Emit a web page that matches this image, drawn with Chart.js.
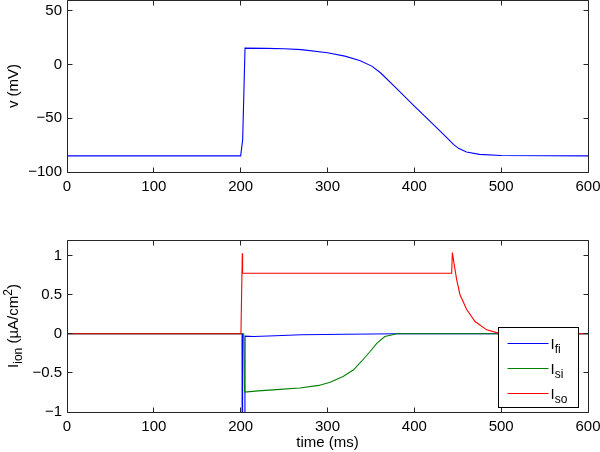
<!DOCTYPE html>
<html>
<head>
<meta charset="utf-8">
<script src="https://cdn.jsdelivr.net/npm/chart.js@4/dist/chart.umd.min.js"></script>
<style>
  body { margin: 0; background: #fff; width: 600px; height: 452px; position: relative; overflow: hidden; }
  .box { position: absolute; left: 0; width: 600px; }
</style>
</head>
<body>
<div class="box" style="top:0;height:200px"><canvas id="vChart" width="600" height="200"></canvas></div>
<div class="box" style="top:226px;height:226px"><canvas id="iChart" width="600" height="226"></canvas></div>

<script>
// tick labels
const timeTicks = [0, 100, 200, 300, 400, 500, 600];
const vTicks = [-100, -50, 0, 50];
const iTicks = [-1, -0.5, 0, 0.5, 1];

// membrane potential v (mV)
const tV = [0, 200, 202.3, 205, 230, 250, 270, 300, 320, 337, 351, 361, 380, 400, 420, 440, 445, 451, 460, 475, 500, 600];
const vV = [-85, -85, -70, 15.2, 15, 14.6, 13.8, 10.9, 7.8, 3.7, -1.5, -7.7, -22.7, -38.7, -54.4, -70.2, -74.3, -78, -81.4, -83.6, -84.6, -85];

// ionic currents (uA/cm^2)
const tFi = [0, 201.6, 202.2, 204.5, 205, 215, 240, 270, 320, 380, 600];
const iFi = [0, 0, -6, -6, -0.03, -0.035, -0.025, -0.012, -0.005, 0, 0];

const tSi = [0, 203.5, 204.5, 220, 245, 268, 290, 303, 318, 330, 339, 349, 357, 366, 380, 600];
const iSi = [0, 0, -0.745, -0.73, -0.71, -0.694, -0.66, -0.62, -0.545, -0.46, -0.354, -0.226, -0.119, -0.034, 0, 0];

const tSo = [0, 200.3, 201.9, 202.2, 443, 443.8, 445.7, 448.8, 452.6, 460.3, 469.9, 483.4, 496.7, 510, 600];
const iSo = [0, 0, 1.03, 0.775, 0.775, 1.04, 0.9, 0.69, 0.5, 0.31, 0.157, 0.051, 0.009, 0, 0];

const FONT = "'Liberation Sans', Arial, Helvetica, sans-serif";
const tickFont = { family: FONT, size: 15 };
const fmt = v => String(v).replace('-', '\u2212');
const pts = (xs, ys) => xs.map((x, i) => ({ x: x, y: ys[i] }));

// box with inward ticks on all four sides (matlab style)
const framePlugin = {
  id: 'frame',
  afterDatasetsDraw(chart) {
    const { ctx, chartArea: a, scales: { x, y } } = chart;
    const L = Math.floor(a.left) + 0.5, R = Math.floor(a.right) + 0.5;
    const T = Math.floor(a.top) + 0.5, B = Math.floor(a.bottom) + 0.5;
    ctx.save();
    ctx.strokeStyle = '#262626';
    ctx.lineWidth = 1;
    ctx.beginPath();
    ctx.rect(L, T, R - L, B - T);
    x.ticks.forEach(t => {
      const px = Math.floor(x.getPixelForValue(t.value)) + 0.5;
      ctx.moveTo(px, B); ctx.lineTo(px, B - 5);
      ctx.moveTo(px, T); ctx.lineTo(px, T + 5);
    });
    y.ticks.forEach(t => {
      const py = Math.floor(y.getPixelForValue(t.value)) + 0.5;
      ctx.moveTo(L, py); ctx.lineTo(L + 5, py);
      ctx.moveTo(R, py); ctx.lineTo(R - 5, py);
    });
    ctx.stroke();
    ctx.restore();
  }
};

// text with a subscript / superscript part, drawn left to right from x
function drawParts(ctx, parts, x, y) {
  parts.forEach(p => {
    ctx.font = p.size + 'px ' + FONT;
    ctx.fillText(p.text, x, y + (p.dy || 0));
    x += ctx.measureText(p.text).width;
  });
  return x;
}
function partsWidth(ctx, parts) {
  let w = 0;
  parts.forEach(p => { ctx.font = p.size + 'px ' + FONT; w += ctx.measureText(p.text).width; });
  return w;
}

// legend + y title of the current plot
const currentPlugin = {
  id: 'currentDecor',
  afterDraw(chart) {
    const { ctx, chartArea: a } = chart;
    ctx.save();
    ctx.fillStyle = '#000';
    ctx.textBaseline = 'alphabetic';

    // y axis title
    const title = [
      { text: 'I', size: 15 },
      { text: 'ion', size: 12, dy: 4 },
      { text: ' (\u00b5A/cm', size: 15 },
      { text: '2', size: 12, dy: -6 },
      { text: ')', size: 15 }
    ];
    ctx.translate(17.5, (a.top + a.bottom) / 2);
    ctx.rotate(-Math.PI / 2);
    drawParts(ctx, title, -partsWidth(ctx, title) / 2, 0);
    ctx.setTransform(1, 0, 0, 1, 0, 0);

    // legend box
    const w = 80, h = 80;
    const x0 = Math.floor(a.right) - 10 - w + 0.5, y0 = Math.floor(a.bottom) - 5 - h + 0.5;
    ctx.fillStyle = '#fff';
    ctx.fillRect(x0, y0, w, h);
    ctx.strokeStyle = '#000';
    ctx.lineWidth = 1;
    ctx.strokeRect(x0, y0, w, h);
    chart.data.datasets.forEach((ds, i) => {
      const cy = Math.round(y0 + 15 + i * 25) + 0.5;
      ctx.strokeStyle = ds.borderColor;
      ctx.lineWidth = 1.1;
      ctx.beginPath();
      ctx.moveTo(x0 + 9, cy); ctx.lineTo(x0 + 50, cy);
      ctx.stroke();
      const [main, sub] = ds.label.split('_');
      ctx.fillStyle = '#000';
      drawParts(ctx, [{ text: main, size: 15 }, { text: sub, size: 12, dy: 4 }], x0 + 52, cy + 5);
    });
    ctx.restore();
  }
};

function xAxis(title, height) {
  return {
    type: 'linear', min: 0, max: 600,
    afterBuildTicks: s => { s.ticks = timeTicks.map(v => ({ value: v })); },
    afterFit: s => { s.height = height; s.paddingLeft = 0; s.paddingRight = 0; },
    grid: { display: false, drawTicks: false },
    border: { display: false },
    ticks: { padding: 6, color: '#000', font: tickFont, maxRotation: 0, autoSkip: false, callback: fmt },
    title: title
      ? { display: true, text: title, color: '#000', font: tickFont, padding: { top: 0, bottom: 0 } }
      : { display: false }
  };
}

function yAxis(min, max, tickVals, title) {
  return {
    type: 'linear', min: min, max: max,
    afterBuildTicks: s => { s.ticks = tickVals.map(v => ({ value: v })); },
    afterFit: s => { s.width = 67; s.paddingTop = 0; s.paddingBottom = 0; },
    grid: { display: false, drawTicks: false },
    border: { display: false },
    ticks: { padding: 5, color: '#000', font: tickFont, autoSkip: false, callback: fmt },
    title: title
      ? { display: true, text: title, color: '#000', font: tickFont, padding: { top: 5, bottom: 0 } }
      : { display: false }
  };
}

const lineDefaults = { borderWidth: 1.1, pointRadius: 0, tension: 0, fill: false };

new Chart('vChart', {
  type: 'line',
  data: {
    datasets: [Object.assign({ label: 'v', data: pts(tV, vV), borderColor: '#0000ff' }, lineDefaults)]
  },
  options: {
    responsive: false,
    animation: false,
    layout: { padding: { top: 0, right: 12, left: 0, bottom: 0 } },
    plugins: { legend: { display: false }, tooltip: { enabled: false } },
    scales: { x: xAxis(null, 28), y: yAxis(-100, 60, vTicks, 'v (mV)') }
  },
  plugins: [framePlugin]
});

new Chart('iChart', {
  type: 'line',
  data: {
    datasets: [
      Object.assign({ label: 'I_fi', data: pts(tFi, iFi), borderColor: '#0000ff', order: 3 }, lineDefaults),
      Object.assign({ label: 'I_si', data: pts(tSi, iSi), borderColor: '#008000', order: 2 }, lineDefaults),
      Object.assign({ label: 'I_so', data: pts(tSo, iSo), borderColor: '#ff0000', order: 1 }, lineDefaults)
    ]
  },
  options: {
    responsive: false,
    animation: false,
    layout: { padding: { top: 14, right: 12, left: 0, bottom: 0 } },
    plugins: { legend: { display: false }, tooltip: { enabled: false } },
    scales: { x: xAxis('time (ms)', 40), y: yAxis(-1, 1.2, iTicks, null) }
  },
  plugins: [framePlugin, currentPlugin]
});
</script>
</body>
</html>
